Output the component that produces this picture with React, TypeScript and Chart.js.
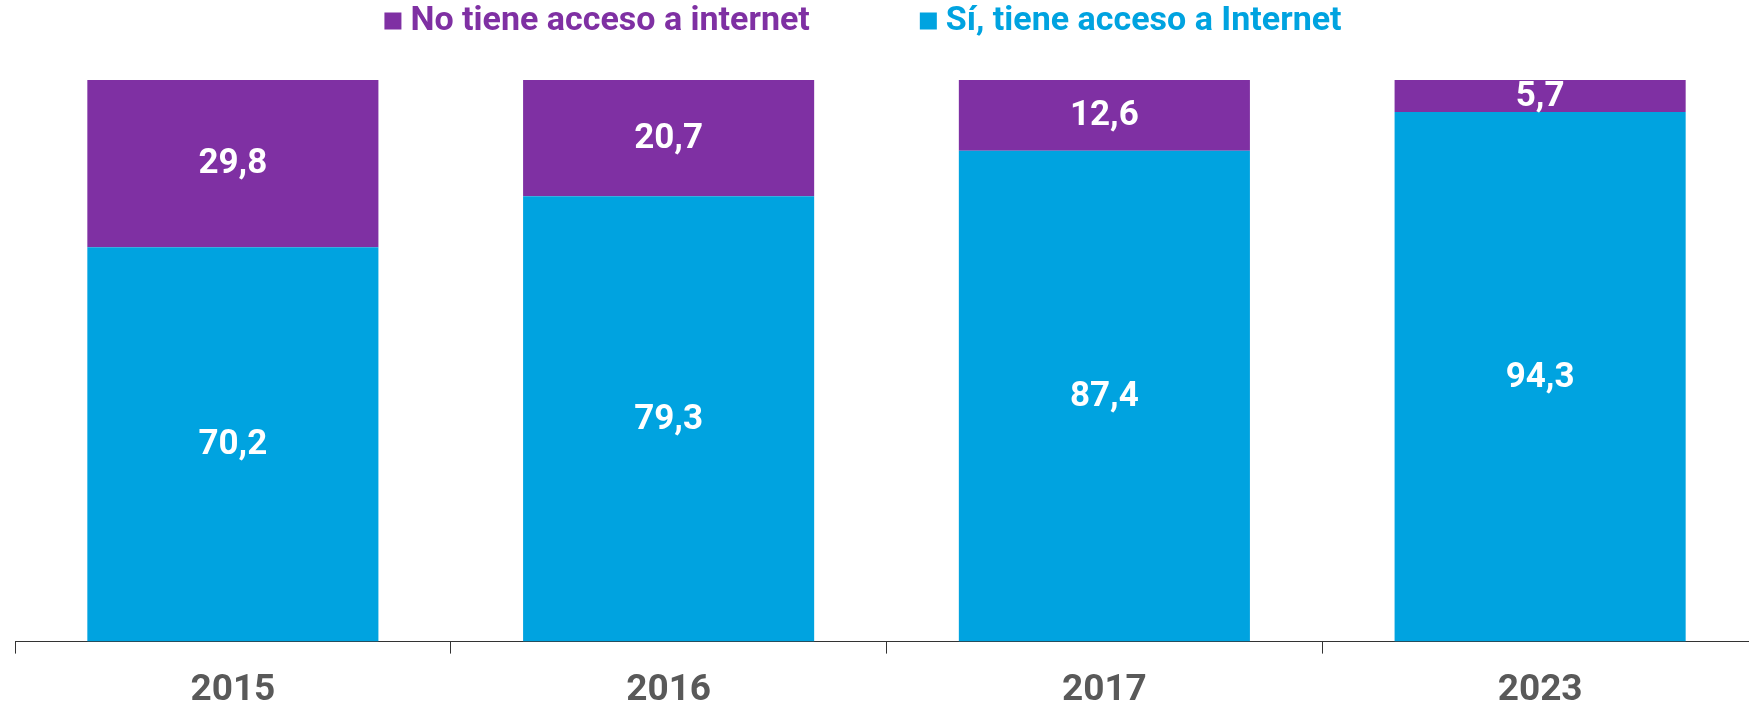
import React, { useEffect, useRef } from "react";
import { Chart, registerables } from "chart.js";

Chart.register(...registerables);

const categories = ["2015", "2016", "2017", "2023"];
const siTiene = [70.2, 79.3, 87.4, 94.3];
const noTiene = [29.8, 20.7, 12.6, 5.7];
const seriesNames = ["Sí, tiene acceso a Internet", "No tiene acceso a internet"];
const seriesColors = ["#00A3E0", "#7F30A3"];

const FONT = "Roboto, 'Open Sans', sans-serif";

const valueLabels = {
  id: "valueLabels",
  afterDatasetsDraw(chart: any) {
    const ctx = chart.ctx;
    ctx.save();
    ctx.fillStyle = "#ffffff";
    ctx.font = `700 35px ${FONT}`;
    ctx.textAlign = "center";
    ctx.textBaseline = "middle";
    chart.data.datasets.forEach((ds: any, di: number) => {
      const meta = chart.getDatasetMeta(di);
      meta.data.forEach((bar: any, i: number) => {
        const v = ds.data[i];
        const p = bar.getProps(["x", "y", "base"], true);
        const cy = (p.y + p.base) / 2;
        ctx.fillText(v.toFixed(1).replace(".", ","), p.x, cy + 1);
      });
    });
    ctx.restore();
  },
};

// Custom legend: items in reverse dataset order, centered group
const topLegend = {
  id: "topLegend",
  afterDraw(chart: any) {
    const ctx = chart.ctx;
    ctx.save();
    ctx.font = `700 34px ${FONT}`;
    ctx.textBaseline = "middle";
    ctx.textAlign = "left";
    const box = 17;
    const boxGap = 9;
    const itemGap = 110;
    const items = chart.data.datasets
      .map((ds: any, i: number) => ({ label: ds.label, color: seriesColors[i] }))
      .reverse();
    const widths = items.map((it: any) => box + boxGap + ctx.measureText(it.label).width);
    const total = widths.reduce((a: number, b: number) => a + b, 0) + itemGap * (items.length - 1);
    const centerX = 863;
    const cy = 21;
    let x = centerX - total / 2;
    items.forEach((it: any, i: number) => {
      ctx.fillStyle = it.color;
      ctx.fillRect(x, cy - box / 2, box, box);
      ctx.fillText(it.label, x + box + boxGap, cy);
      x += widths[i] + itemGap;
    });
    ctx.restore();
  },
};

export default function App() {
  const ref = useRef<HTMLCanvasElement>(null);
  useEffect(() => {
    if (!ref.current) return;
    const chart = new Chart(ref.current, {
      type: "bar",
      data: {
        labels: categories,
        datasets: [
          { label: seriesNames[0], data: siTiene, backgroundColor: seriesColors[0], barPercentage: 0.668, categoryPercentage: 1 },
          { label: seriesNames[1], data: noTiene, backgroundColor: seriesColors[1], barPercentage: 0.668, categoryPercentage: 1 },
        ],
      },
      options: {
        animation: false,
        responsive: false,
        maintainAspectRatio: false,
        layout: { padding: { left: 15, right: 2, top: 80, bottom: 0 } },
        plugins: {
          tooltip: { enabled: false },
          legend: { display: false },
        },
        scales: {
          x: {
            stacked: true,
            border: { display: true, color: "#333333", width: 1 },
            grid: { display: true, drawOnChartArea: false, drawTicks: true, tickLength: 12, color: "#333333", offset: true },
            ticks: { color: "#595959", padding: 15, font: { family: FONT, size: 37, weight: "bold" } },
          },
          y: {
            stacked: true,
            display: false,
            min: 0,
            max: 100,
          },
        },
      },
      plugins: [valueLabels, topLegend],
    });
    return () => chart.destroy();
  }, []);
  return (
    <div style={{ position: "fixed", left: 0, top: 0, width: 1749, height: 706, overflow: "hidden", background: "#fff" }}>
      <canvas ref={ref} width={1760} height={728} style={{ width: 1760, height: 728, display: "block" }} />
    </div>
  );
}
